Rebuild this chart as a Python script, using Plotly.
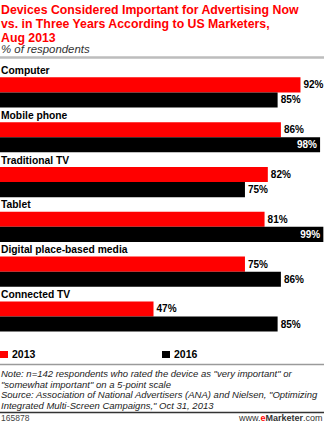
import plotly.graph_objects as go

categories = ["Computer", "Mobile phone", "Traditional TV", "Tablet",
              "Digital place-based media", "Connected TV"]
values_2013 = [92, 86, 82, 81, 75, 47]
values_2016 = [85, 98, 75, 99, 86, 85]
series_names = ["2013", "2016"]
colors = ["#ff0000", "#000000"]

title_lines = ["Devices Considered Important for Advertising Now",
               "vs. in Three Years According to US Marketers,",
               "Aug 2013"]
subtitle = "% of respondents"
note_lines = [
    'Note: n=142 respondents who rated the device as "very important" or',
    '"somewhat important" on a 5-point scale',
    'Source: Association of National Advertisers (ANA) and Nielsen, "Optimizing',
    'Integrated Multi-Screen Campaigns," Oct 31, 2013',
]
chart_id = "165878"

W, H = 324, 423
TOP, BOT = 69.7, 346.0
FONT = "Liberation Sans, Arial, sans-serif"


def py(y):
    return (BOT - y) / (BOT - TOP)


def text_pos(vals):
    return ["inside" if v >= 95 else "outside" for v in vals]


fig = go.Figure()
for name, vals, col in zip(series_names, [values_2013, values_2016], colors):
    fig.add_trace(go.Bar(
        name=name, y=categories, x=vals, orientation="h",
        marker=dict(color=col, line=dict(width=0)),
        text=[f"{v}%" for v in vals],
        textposition=text_pos(vals),
        insidetextanchor="end",
        textangle=0,
        constraintext="none",
        cliponaxis=False,
        insidetextfont=dict(color="#ffffff", size=10, family=FONT, weight="bold"),
        outsidetextfont=dict(color="#000000", size=10, family=FONT, weight="bold"),
        showlegend=False,
        hoverinfo="skip",
    ))

ann = []
# category labels above each group
for c in categories:
    ann.append(dict(x=0, xref="paper", y=c, yref="y", yshift=22,
                    text=c, showarrow=False, xanchor="left", yanchor="middle", xshift=-1,
                    font=dict(size=10.3, family=FONT, color="#000", weight="bold")))
# title
for line, yc in zip(title_lines, [10, 24, 37.5]):
    ann.append(dict(x=0, xref="paper", y=py(yc), yref="paper", text=line,
                    showarrow=False, xanchor="left", yanchor="middle", xshift=-1,
                    font=dict(size=12.3, family=FONT, color="#ff0000", weight="bold")))
ann.append(dict(x=0, xref="paper", y=py(49), yref="paper", text=subtitle,
                showarrow=False, xanchor="left", yanchor="middle", xshift=-1,
                font=dict(size=11.4, family=FONT, color="#333", style="italic")))
# legend
legend_x = [0, 162]
for name, lx in zip(series_names, legend_x):
    ann.append(dict(x=(lx + 11) / W, xref="paper", y=py(354.5), yref="paper",
                    text=name, showarrow=False, xanchor="left", yanchor="middle", xshift=-1,
                    font=dict(size=10.5, family=FONT, color="#000", weight="bold")))
for line, yc in zip(note_lines, [374, 384.5, 395, 405.5]):
    ann.append(dict(x=0, xref="paper", y=py(yc), yref="paper", text=line,
                    showarrow=False, xanchor="left", yanchor="middle", xshift=-1,
                    font=dict(size=9.5, family=FONT, color="#222", style="italic")))
ann.append(dict(x=0, xref="paper", y=py(418.5), yref="paper", text=chart_id,
                showarrow=False, xanchor="left", yanchor="middle", xshift=-1,
                font=dict(size=8.5, family=FONT, color="#444")))
ann.append(dict(x=1, xref="paper", y=py(418.5), yref="paper",
                text="www.<b><span style='color:#ff0000'>e</span>Marketer</b>.com",
                showarrow=False, xanchor="right", yanchor="middle", xshift=1,
                font=dict(size=9, family=FONT, color="#333")))

shapes = [
    dict(type="line", xref="paper", yref="paper", x0=0, x1=1, y0=py(57.2), y1=py(57.2),
         line=dict(color="#bdbdbd", width=2.5)),
    dict(type="line", xref="paper", yref="paper", x0=0, x1=1, y0=py(364.5), y1=py(364.5),
         line=dict(color="#9a9a9a", width=1.5)),
    dict(type="line", xref="paper", yref="paper", x0=0, x1=1, y0=py(412.5), y1=py(412.5),
         line=dict(color="#333333", width=1.5)),
]
for col, lx in zip(colors, legend_x):
    shapes.append(dict(type="rect", xref="paper", yref="paper",
                       x0=lx / W, x1=(lx + 8) / W, y0=py(358), y1=py(351),
                       fillcolor=col, line=dict(width=0)))

fig.update_layout(
    width=W, height=H,
    margin=dict(l=0, r=0, t=TOP, b=H - BOT, pad=0),
    barmode="group", bargap=0.327, bargroupgap=0,
    paper_bgcolor="#ffffff", plot_bgcolor="#ffffff",
    xaxis=dict(range=[0, 99.2], visible=False, fixedrange=True),
    yaxis=dict(autorange="reversed", visible=False, fixedrange=True),
    annotations=ann, shapes=shapes,
    showlegend=False,
    font=dict(family=FONT),
)
fig.write_html("out.html", config={"displayModeBar": False})
